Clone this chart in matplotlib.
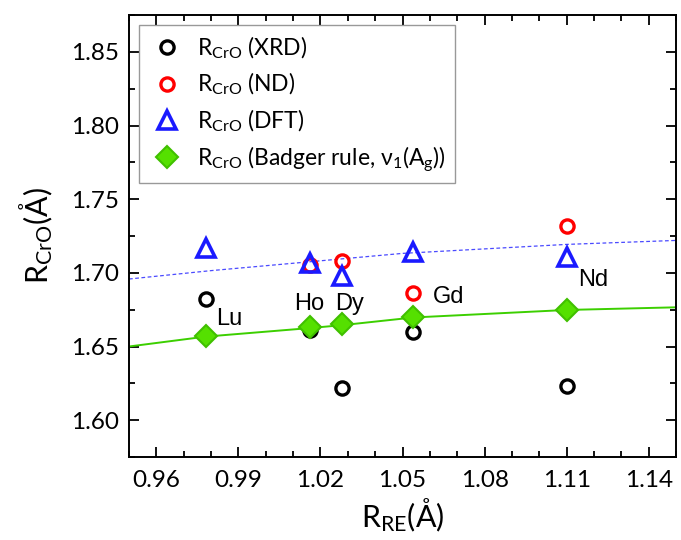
import matplotlib
matplotlib.use("Agg")
import matplotlib.pyplot as plt
from matplotlib.ticker import MultipleLocator, FormatStrFormatter

# ionic radii of the rare earths (x) and Cr-O distances (y)
elements = ["Lu", "Ho", "Dy", "Gd", "Nd"]
r_re = [0.978, 1.016, 1.028, 1.054, 1.110]
r_xrd = [1.682, 1.661, 1.622, 1.660, 1.623]
r_nd = [None, 1.705, 1.708, 1.686, 1.732]
r_dft = [1.717, 1.707, 1.698, 1.714, 1.711]
r_badger = [1.657, 1.663, 1.665, 1.670, 1.675]

# curves
fit_dft_x = [0.950, 0.980, 1.016, 1.050, 1.110, 1.150]
fit_dft_y = [1.6958, 1.7015, 1.7075, 1.7132, 1.7193, 1.7220]
fit_badger_x = [0.950, 0.978, 1.016, 1.028, 1.054, 1.110, 1.150]
fit_badger_y = [1.6500, 1.6567, 1.6625, 1.6645, 1.6697, 1.6748, 1.6766]

# label positions (centre x, baseline y)
label_x = [0.9867, 1.0158, 1.0308, 1.0667, 1.1197]
label_y = [1.6646, 1.6748, 1.6748, 1.6795, 1.6911]

xticks = [0.96, 0.99, 1.02, 1.05, 1.08, 1.11, 1.14]

plt.rcParams["font.family"] = ["Lato", "DejaVu Sans"]
plt.rcParams["mathtext.default"] = "regular"

fig = plt.figure(figsize=(6.81, 5.40), dpi=100)
ax = fig.add_axes([0.1894, 0.1537, 0.8033, 0.8185])

ax.plot(fit_dft_x, fit_dft_y, linestyle=(0, (3, 2)), color="#4a4aff", lw=0.9)
ax.plot(fit_badger_x, fit_badger_y, color="#3ccf00", lw=1.4)

nd_x = [x for x, y in zip(r_re, r_nd) if y is not None]
nd_y = [y for y in r_nd if y is not None]

ax.plot(r_re, r_xrd, "o", ls="none", mfc="none", mec="black", ms=9.5, mew=2.4,
        label=r"R$_{CrO}$ (XRD)")
ax.plot(nd_x, nd_y, "o", ls="none", mfc="none", mec="#ff0000", ms=9.5, mew=2.4,
        label=r"R$_{CrO}$ (ND)")
ax.plot(r_re, r_dft, "^", ls="none", mfc="none", mec="#1a1aff", ms=13, mew=2.6,
        label=r"R$_{CrO}$ (DFT)")
ax.plot(r_re, r_badger, "D", ls="none", mfc="#55e000", mec="#40c000", ms=11.5, mew=1.5,
        label=r"R$_{CrO}$ (Badger rule, ν$_1$(A$_g$))")

for name, x, y in zip(elements, label_x, label_y):
    ax.text(x, y, name, ha="center", va="baseline", fontsize=17,
            family=["Liberation Sans", "DejaVu Sans"])

ax.xaxis.set_minor_locator(MultipleLocator(0.01))
ax.yaxis.set_major_locator(MultipleLocator(0.05))
ax.yaxis.set_minor_locator(MultipleLocator(0.025))
ax.set_xticks(xticks)
ax.set_xticklabels(["%.2f" % t for t in xticks])
ax.set_xlim(0.95, 1.15)
ax.set_ylim(1.575, 1.875)
ax.yaxis.set_major_formatter(FormatStrFormatter("%.2f"))

ax.tick_params(which="both", direction="in", top=True, right=True, width=1.3)
ax.tick_params(which="major", length=7, labelsize=17.5)
ax.tick_params(which="minor", length=4)
ax.tick_params(axis="x", pad=9)
ax.tick_params(axis="y", pad=7)
for s in ax.spines.values():
    s.set_linewidth(1.4)

ax.set_xlabel(r"R$_{RE}$(Å)", fontsize=22, labelpad=4)
ax.set_ylabel(r"R$_{CrO}$(Å)", fontsize=22, labelpad=12)

leg = ax.legend(loc="upper left", fontsize=16.5, frameon=True, fancybox=False,
                borderaxespad=0.45, handletextpad=0.5, labelspacing=0.45,
                borderpad=0.4, handlelength=1.6)
leg.get_frame().set_edgecolor("#808080")
leg.get_frame().set_linewidth(1.0)

fig.savefig("out.png", dpi=100)
